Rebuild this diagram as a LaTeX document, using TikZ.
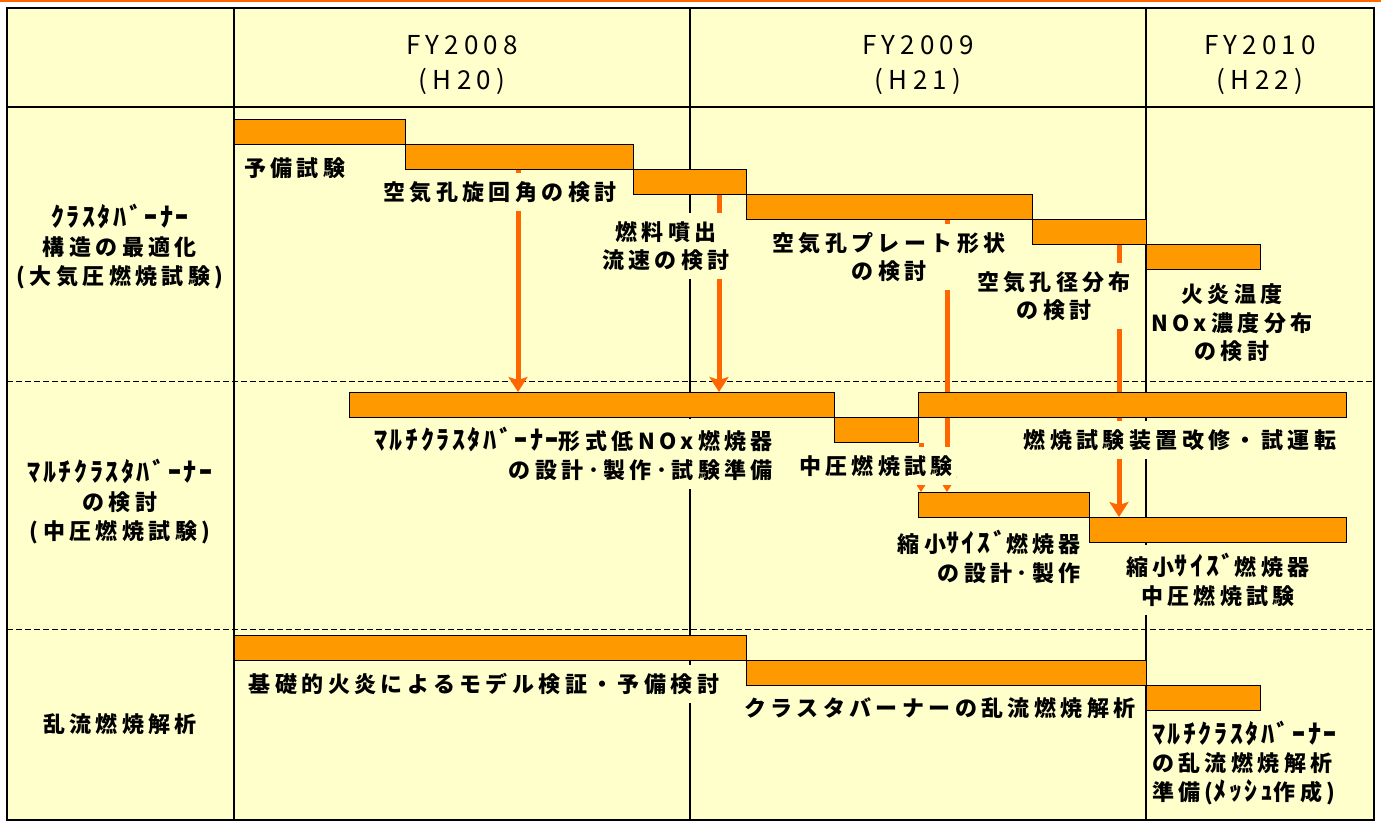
\documentclass[tikz,border=0pt]{standalone}
\usepackage{fontspec}
\usetikzlibrary{arrows.meta}
\newfontfamily\jpf{Noto Sans CJK JP}[LetterSpace=20]
\newcommand\hw[1]{{\fontsize{26}{28.5}\selectfont\addfontfeature{LetterSpace=10}#1}}
\definecolor{bgy}{HTML}{FFFFCC}
\definecolor{barc}{HTML}{FF9900}
\definecolor{arrc}{HTML}{FF6600}
\pgfdeclarelayer{gridlayer}
\pgfdeclarelayer{arrowlayer}
\pgfsetlayers{gridlayer,arrowlayer,main}
\begin{document}
\begin{tikzpicture}[x=1pt,y=-1pt,
  bar/.style={draw=black,line width=0.8pt,fill=barc,anchor=north west,inner sep=0pt,minimum height=25pt},
  lbl/.style={fill=bgy,inner xsep=3pt,inner ysep=8pt,font=\jpf\bfseries\fontsize{22}{28.5}\selectfont},
  side/.style={inner sep=2pt,align=center,font=\jpf\bfseries\fontsize{22}{29}\selectfont},
  hdr/.style={inner sep=0pt,align=center,font=\jpf\fontsize{26}{35}\selectfont},
  arr/.style={draw=arrc,line width=5pt,-{Stealth[length=15pt,width=19pt,inset=3pt]}},
  divider/.style={line width=1.2pt},
  border/.style={line width=2pt},
  sepline/.style={line width=1pt,dash pattern=on 6pt off 3pt}
]
\begin{pgfonlayer}{gridlayer}
\fill[white] (0,0) rectangle (1381,812);
\fill[arrc] (0,0) rectangle (1381,2);
\fill[bgy] (7,8) rectangle (1374,820);
\draw[divider] (690,8) -- (690,820);
\draw[divider] (1146,8) -- (1146,820);
\draw[sepline] (7,381) -- (1374,381);
\draw[sepline] (7,629) -- (1374,629);
\end{pgfonlayer}
\useasboundingbox (0,0) rectangle (1381,812);

% headers
\node[hdr] (h1) at (462,65) {FY2008\\(H20)};
\node[hdr] (h2) at (918,65) {FY2009\\(H21)};
\node[hdr] (h3) at (1260,65) {FY2010\\(H22)};

% side labels
\node[side] (s1) at (120,247) {\hw{ｸﾗｽﾀﾊﾞｰﾅｰ}\\構造の最適化\\(大気圧燃焼試験)};
\node[side] (s2) at (120,502) {\hw{ﾏﾙﾁｸﾗｽﾀﾊﾞｰﾅｰ}\\の検討\\(中圧燃焼試験)};
\node[side] (s3) at (120,724) {乱流燃焼解析};

% bars row 1
\node[bar,minimum width=171pt] (b1) at (234,119) {};
\node[bar,minimum width=228pt] (b2) at (405,144) {};
\node[bar,minimum width=113pt] (b3) at (633,169) {};
\node[bar,minimum width=286pt] (b4) at (746,194) {};
\node[bar,minimum width=114pt] (b5) at (1032,219) {};
\node[bar,minimum width=114pt] (b6) at (1146,244) {};
% bars row 2
\node[bar,minimum width=485pt] (m1) at (349,392) {};
\node[bar,minimum width=84pt] (m2) at (834,417) {};
\node[bar,minimum width=428pt] (m3) at (918,392) {};
\node[bar,minimum width=171pt] (m4) at (918,492) {};
\node[bar,minimum width=257pt] (m5) at (1089,517) {};
% bars row 3
\node[bar,minimum width=512pt] (t1) at (234,635) {};
\node[bar,minimum width=400pt] (t2) at (746,660) {};
\node[bar,minimum width=114pt] (t3) at (1146,685) {};

% arrows
\coordinate (xA) at (518,0);
\coordinate (xB) at (719,0);
\coordinate (xC) at (947,0);
\coordinate (xD) at (1119,0);
\coordinate (xE) at (921,0);
\begin{pgfonlayer}{arrowlayer}
\draw[arr] (b2.south -| xA) -- (m1.north -| xA);
\draw[arr] (b3.south -| xB) -- (m1.north -| xB);
\draw[arr] (b4.south -| xC) -- (m4.north -| xC);
\draw[arr] (b5.south -| xD) -- (m5.north -| xD);
\draw[arr] (m2.south -| xE) -- (m4.north -| xE);
\end{pgfonlayer}

% labels row 1
\node[lbl,anchor=west] (l1) at (241,168) {予備試験};
\node[lbl] (l2) at (500,192) {空気孔旋回角の検討};
\node[lbl,align=center] (l3) at (666,246) {燃料噴出\\流速の検討};
\node[lbl,align=center] (l4) at (889,257) {空気孔プレート形状\\の検討};
\node[lbl,align=center] (l5) at (1054,296) {空気孔径分布\\の検討};
\node[lbl,align=center] (l6) at (1232,323) {火炎温度\\NOx濃度分布\\の検討};
% labels row 2
\node[lbl,align=right,anchor=east] (l7) at (776,454) {\hw{ﾏﾙﾁｸﾗｽﾀﾊﾞｰﾅｰ}形式低NOx燃焼器\\の設計･製作･試験準備};
\node[lbl] (l8) at (876,466) {中圧燃焼試験};
\node[lbl] (l9) at (1180,440) {燃焼試験装置改修・試運転};
\node[lbl,align=right,anchor=east] (l10) at (1084,557) {縮小\hw{ｻｲｽﾞ}燃焼器\\の設計･製作};
\node[lbl,align=center] (l11) at (1218,580) {縮小\hw{ｻｲｽﾞ}燃焼器\\中圧燃焼試験};
% labels row 3
\node[lbl] (l12) at (484,684) {基礎的火炎によるモデル検証・予備検討};
\node[lbl] (l13) at (940,708) {クラスタバーナーの乱流燃焼解析};
\node[lbl,align=left,anchor=west] (l14) at (1149,763) {\hw{ﾏﾙﾁｸﾗｽﾀﾊﾞｰﾅｰ}\\の乱流燃焼解析\\準備(\hw{ﾒｯｼｭ}作成)};

% thick frame
\draw[border] (7,8) rectangle (1374,820);
\draw[border] (7,107) -- (1374,107);
\draw[border] (234,8) -- (234,820);
\end{tikzpicture}
\end{document}
